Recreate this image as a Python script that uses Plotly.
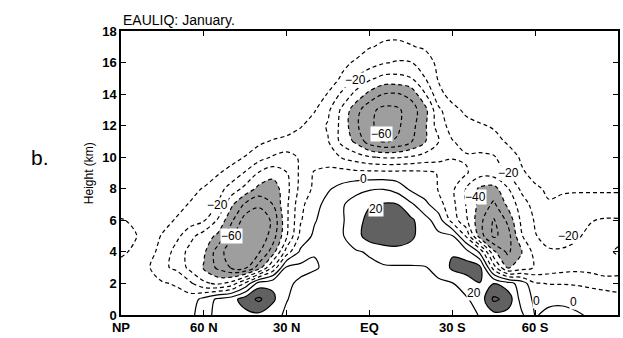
import plotly.graph_objects as go

# latitude columns (deg, + = north) and heights (km)
lats = [90, 85, 80, 75, 70, 65, 60, 55, 50, 45, 40, 35, 30, 25, 20, 15, 10, 5, 0,
        -5, -10, -15, -20, -25, -30, -35, -40, -45, -50, -55, -60, -65, -70, -75, -80, -85, -90]
heights = [0, 1, 2, 3, 4, 5, 6, 7, 8, 9, 10, 11, 12, 13, 14, 15, 16, 17, 18]

# field values, one row per height (km), columns follow lats
h0 = [-2, -2, -2, -3, -3, -3, 6, 13, 15, 17, 18, 14, 8, 5, 4, 3, 3, 3, 3,
      3, 3, 3, 4, 4, 5, 7, 10.5, 17, 16, 12, -0.5, 1.5, 2, 1, -1, -2, -3]
h1 = [-3, -3, -4, -5, -6, -5, 3, 12, 16, 25, 32, 22, 10.5, 6, 5, 4, 4, 4, 4,
      5, 5, 5, 6, 6, 7, 9, 14, 32, 27, 6, -2, -1.5, -1.5, -3, -5, -6, -7]
h2 = [-5, -5, -7, -9, -11, -18, -28, -32, -26, -8, 15, 18, 12, 8, 6, 5, 5, 6, 6,
      6, 7, 7, 8, 9, 9.5, 14, 19.8, 19.8, 14, 6, -9, -10.5, -10.5, -11, -12, -13, -14]
h3 = [-8, -7, -9, -18, -22, -33, -41, -52, -61, -62, -45, -18, 12, 13, 11, 8, 7, 7, 8,
      9, 9, 9, 9.5, 12, 22, 25, 23, -15, -41, -35, -29, -26, -24, -23, -24, -28, -26]
h4 = [-11, -9, -7, -13, -24, -33, -38, -55, -66, -68, -61, -45, -15, 2, 9.5, 8.5, 8, 9, 11,
      14, 16, 16, 15, 16, 19, 14, -2, -38, -52, -41, -26, -21, -21, -22, -24, -28, -31]
h5 = [-12, -10.5, -7, -10.5, -17, -27, -35, -42, -58, -70, -68, -55, -31, -7, 2, 5, 9, 16, 25,
      28, 27, 22, 15, 12, 11, -11, -45, -62, -55, -31, -20.5, -17, -17, -19, -22, -24, -28]
h6 = [-10.5, -9, -7, -8, -10.5, -15, -19, -31, -48, -65, -68, -58, -32, -11, -1, 5, 9, 15, 24,
      28, 27, 22, 14, 5, -14, -28, -47, -61, -48, -28, -19, -17, -16, -16, -19.5, -21, -21]
h7 = [-6, -5.5, -5, -6, -8, -10.5, -15, -20.5, -38, -52, -58, -50, -32, -13, -3, 3, 9, 14, 19,
      21, 20.5, 12, 3, -6, -17, -30.5, -43, -52, -38, -25, -16, -10.5, -12, -13, -13, -13, -13]
h8 = [-3, -3, -4, -5, -6, -8, -10.5, -16, -24, -33, -43, -46, -33, -17, -8, -1, 3, 7, 9,
      9.5, 6, -2, -6, -10.5, -18, -30.5, -42, -44, -31, -18, -11, -9, -9, -9, -9, -9, -9]
h9 = [-3, -3, -3, -3, -4, -5, -6, -9, -14, -21, -31, -36, -30.5, -18, -9, -6, -6, -7, -7,
      -7, -7, -7, -8, -10.5, -13, -19, -26, -25, -19, -11, -8, -7, -6, -6, -6, -6, -6]
h10 = [-3, -3, -3, -3, -3, -3, -4, -4.5, -6, -10.5, -16, -21, -23, -19, -16, -17, -20.5, -25, -29,
       -31, -31, -29, -26, -24, -21, -21, -22, -21, -14, -9, -7, -5, -5, -5, -5, -5, -5]
h11 = [-3, -3, -3, -3, -3, -3, -3, -3, -4, -5, -8, -11, -14, -16, -17, -19.5, -33, -42, -55,
       -61, -59, -51, -41, -30.5, -20.5, -17, -15, -13, -9, -7, -5, -5, -5, -5, -5, -5, -5]
h12 = [-3, -3, -3, -3, -3, -3, -3, -3, -3, -3, -3, -3, -3, -9, -15, -21, -33, -48, -58,
       -64, -62, -54, -42, -25, -16, -13, -11, -9, -7, -5, -5, -5, -5, -5, -5, -5, -5]
h13 = [-3, -3, -3, -3, -3, -3, -3, -3, -3, -3, -3, -3, -4, -6, -9, -18, -32, -46, -57,
       -63, -62, -55, -44, -22, -13, -8, -5, -4, -4, -4, -4, -4, -4, -4, -4, -4, -4]
h14 = [-3, -3, -3, -3, -3, -3, -3, -3, -3, -3, -3, -3, -3, -4, -6, -10.5, -22, -33, -43,
       -50, -51, -47, -31, -13, -6, -4, -3, -3, -3, -3, -3, -3, -3, -3, -3, -3, -3]
h15 = [-3, -3, -3, -3, -3, -3, -3, -3, -3, -3, -3, -3, -3, -3, -4, -6, -11, -21, -28,
       -33, -33, -30.5, -20.5, -9, -5, -4, -3, -3, -3, -3, -3, -3, -3, -3, -3, -3, -3]
h16 = [-3, -3, -3, -3, -3, -3, -3, -3, -3, -3, -3, -3, -3, -3, -4, -5, -8, -11, -15,
       -19, -21, -20.5, -14, -8, -5, -4, -3, -3, -3, -3, -3, -3, -3, -3, -3, -3, -3]
h17 = [-3, -3, -3, -3, -3, -3, -3, -3, -3, -3, -3, -3, -3, -3, -3, -3, -4, -6, -9.5,
       -11, -11.5, -10.5, -9, -5, -4, -3, -3, -3, -3, -3, -3, -3, -3, -3, -3, -3, -3]
h18 = [-3, -3, -3, -3, -3, -3, -3, -3, -3, -3, -3, -3, -3, -3, -3, -3, -3, -4, -6,
       -8, -8, -7, -5, -4, -3, -3, -3, -3, -3, -3, -3, -3, -3, -3, -3, -3, -3]

z = [h0, h1, h2, h3, h4, h5, h6, h7, h8, h9, h10, h11, h12, h13, h14, h15, h16, h17, h18]

tick_vals = [90, 60, 30, 0, -30, -60, -90]
tick_text = ['NP', '60 N', '30 N', 'EQ', '30 S', '60 S', 'SP']

# contour labels (lat, height, text)
lab_lat = [4.9, -4.5, 55, 50, 2, -2.3, -50.3, -38.4, -72, -37.7, -60.4, -73.8]
lab_h = [14.9, 11.5, 7.0, 5.0, 8.6, 6.7, 9.0, 7.5, 5.0, 1.4, 0.9, 0.8]
lab_txt = ['\u221220', '\u221260', '\u221220', '\u221260', '0', '20', '\u221220', '\u221240',
           '\u221220', '20', '0', '0']

fig = go.Figure()

# shaded regions (plotly shades the infeasible side of a constraint)
fig.add_trace(go.Contour(x=lats, y=heights, z=z, showscale=False,
                         contours=dict(type='constraint', operation='>', value=-40),
                         fillcolor='rgba(0,0,0,0.38)', line=dict(width=0, color='rgba(0,0,0,0)'),
                         hoverinfo='skip'))
fig.add_trace(go.Contour(x=lats, y=heights, z=z, showscale=False,
                         contours=dict(type='constraint', operation='<', value=20),
                         fillcolor='rgba(0,0,0,0.62)', line=dict(width=0, color='rgba(0,0,0,0)'),
                         hoverinfo='skip'))
# negative (dashed) contours
fig.add_trace(go.Contour(x=lats, y=heights, z=z, showscale=False,
                         contours=dict(coloring='none', start=-90, end=-10, size=10),
                         line=dict(color='black', width=1.2, dash='4px,3px', smoothing=1),
                         hoverinfo='skip'))
# zero and positive (solid) contours
fig.add_trace(go.Contour(x=lats, y=heights, z=z, showscale=False,
                         contours=dict(coloring='none', start=0, end=40, size=10),
                         line=dict(color='black', width=1.2, smoothing=1),
                         hoverinfo='skip'))

for la, hh, tt in zip(lab_lat, lab_h, lab_txt):
    fig.add_annotation(x=la, y=hh, text=tt, showarrow=False, bgcolor='white', borderpad=0,
                       font=dict(family='Liberation Sans', size=12, color='black'))

fig.add_annotation(xref='paper', yref='paper', x=0, y=1, xanchor='left', yanchor='bottom',
                   yshift=1, text='EAULIQ: January.', showarrow=False,
                   font=dict(family='Liberation Sans', size=14, color='black'))
fig.add_annotation(xref='paper', yref='paper', x=-0.162, y=0.554, xanchor='center',
                   yanchor='middle', text='b.', showarrow=False,
                   font=dict(family='Liberation Sans', size=21, color='black'))
fig.add_annotation(xref='paper', yref='paper', x=-0.064, y=0.5, xanchor='center',
                   yanchor='middle', text='Height (km)', textangle=-90, showarrow=False,
                   font=dict(family='Liberation Sans', size=12, color='black'))

axis_font = dict(family='Liberation Sans', size=13, color='black', weight='bold')
fig.update_xaxes(range=[90, -90], tickvals=tick_vals, ticktext=tick_text, ticks='inside',
                 ticklen=5, tickwidth=1.2, tickcolor='black', showline=True, linewidth=1.5,
                 linecolor='black', mirror='ticks', showgrid=False, zeroline=False,
                 tickfont=axis_font)
fig.update_yaxes(range=[0, 18], dtick=2, ticks='inside', ticklen=5, tickwidth=1.2,
                 tickcolor='black', showline=True, linewidth=1.5, linecolor='black',
                 mirror='ticks', showgrid=False, zeroline=False, tickfont=axis_font)

fig.update_layout(width=623, height=338, margin=dict(l=121, r=3, t=31, b=18),
                  paper_bgcolor='white', plot_bgcolor='white', showlegend=False)

fig.write_html('out.html')
